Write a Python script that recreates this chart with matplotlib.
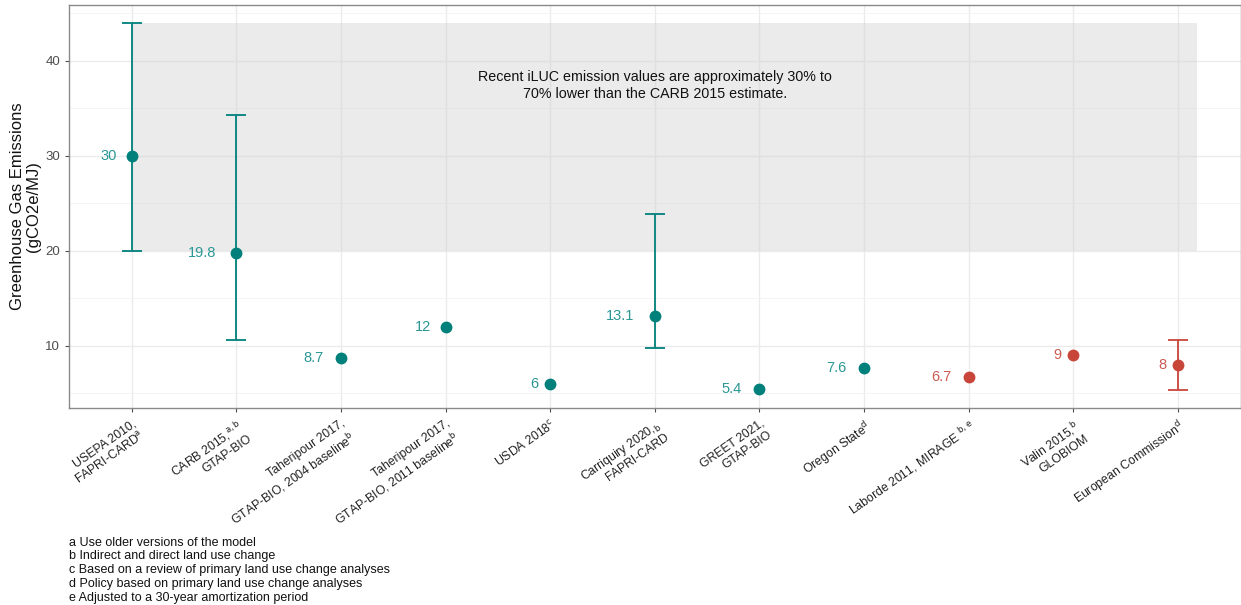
import numpy as np
import matplotlib.pyplot as plt
from matplotlib.patches import Rectangle

# data
studies = ['USEPA 2010,\nFAPRI-CARD$^{\\mathrm{a}}$',
           'CARB 2015,$^{\\mathrm{a,b}}$\nGTAP-BIO',
           'Taheripour 2017,\nGTAP-BIO, 2004 baseline$^{\\mathrm{b}}$',
           'Taheripour 2017,\nGTAP-BIO, 2011 baseline$^{\\mathrm{b}}$',
           'USDA 2018$^{\\mathrm{c}}$',
           'Carriquiry 2020,$_{\\mathrm{b}}$\nFAPRI-CARD',
           'GREET 2021,\nGTAP-BIO',
           'Oregon State$^{\\mathrm{d}}$',
           'Laborde 2011, MIRAGE $^{\\mathrm{b,e}}$',
           'Valin 2015,$^{\\mathrm{b}}$\nGLOBIOM',
           'European Commission$^{\\mathrm{d}}$']
values = [30, 19.8, 8.7, 12, 6, 13.1, 5.4, 7.6, 6.7, 9, 8]
labels = ['30', '19.8', '8.7', '12', '6', '13.1', '5.4', '7.6', '6.7', '9', '8']
low = [20, 10.6, None, None, None, 9.7, None, None, None, None, 5.3]
high = [44, 34.3, None, None, None, 23.9, None, None, None, None, 10.6]
region = ['US'] * 8 + ['EU'] * 3

footnotes = ['a Use older versions of the model',
             'b Indirect and direct land use change',
             'c Based on a review of primary land use change analyses',
             'd Policy based on primary land use change analyses',
             'e Adjusted to a 30-year amortization period']

point_col = {'US': '#00807b', 'EU': '#c8453a'}
label_col = {'US': '#2a9794', 'EU': '#cc5a52'}

plt.rcParams['font.family'] = ['Liberation Sans', 'DejaVu Sans']

fig = plt.figure(figsize=(12.41, 6.05), dpi=100)
ax = fig.add_axes([0.0556, 0.326, 0.944, 0.666])

x = np.arange(1, len(studies) + 1)

# grey band: range of the CARB 2015 / USEPA estimates
ax.add_patch(Rectangle((1, 20), 10.18, 24, facecolor='#d0d0d0', alpha=0.42,
                       edgecolor='none', zorder=1))

for i in range(len(x)):
    c = point_col[region[i]]
    if low[i] is not None:
        ax.errorbar(x[i], values[i], yerr=[[values[i] - low[i]], [high[i] - values[i]]],
                    fmt='none', ecolor=c, elinewidth=1.3, capsize=7.5, capthick=1.3, zorder=3)
    ax.plot(x[i], values[i], 'o', color=c, markersize=7.5, zorder=4)
    ax.annotate(labels[i], (x[i], values[i]), xytext=(-(6 + 2.2 * len(labels[i])), 0),
                textcoords='offset points', ha='right', va='center',
                color=label_col[region[i]], fontsize=10.5, zorder=5)

ax.text(6, 37.4, 'Recent iLUC emission values are approximately 30% to\n'
        '70% lower than the CARB 2015 estimate.',
        ha='center', va='center', fontsize=10.3, color='#111111', zorder=5,
        linespacing=1.3)

ax.set_xlim(0.4, 11.6)
ax.set_ylim(3.45, 45.9)
ax.set_yticks([10, 20, 30, 40])
ax.set_yticks([5, 15, 25, 35, 45], minor=True)
ax.set_xticks(x)
ax.set_xticklabels(studies, rotation=35, ha='right', rotation_mode='anchor',
                   fontsize=8.8, color='#222222', linespacing=1.15)
ax.tick_params(axis='y', labelsize=9.5, colors='#4d4d4d', length=3, width=0.8)
ax.tick_params(axis='y', which='minor', length=0)
ax.tick_params(axis='x', length=3, width=0.8, colors='#4d4d4d', pad=4)
for t in ax.get_xticklabels():
    t.set_color('#222222')

ax.grid(True, which='major', color='#ebebeb', linewidth=1.0, zorder=0)
ax.grid(True, which='minor', axis='y', color='#f2f2f2', linewidth=0.6, zorder=0)
ax.set_axisbelow(True)
for s in ax.spines.values():
    s.set_color('#8a8a8a')
    s.set_linewidth(1.0)

ax.set_ylabel('Greenhouse Gas Emissions\n(gCO2e/MJ)', fontsize=12, color='#111111',
              linespacing=1.1, labelpad=3)

fig.text(0.0555, 0.113, '\n'.join(footnotes), fontsize=9, color='#111111',
         va='top', ha='left', linespacing=1.2)

plt.savefig('out.png', dpi=100)
